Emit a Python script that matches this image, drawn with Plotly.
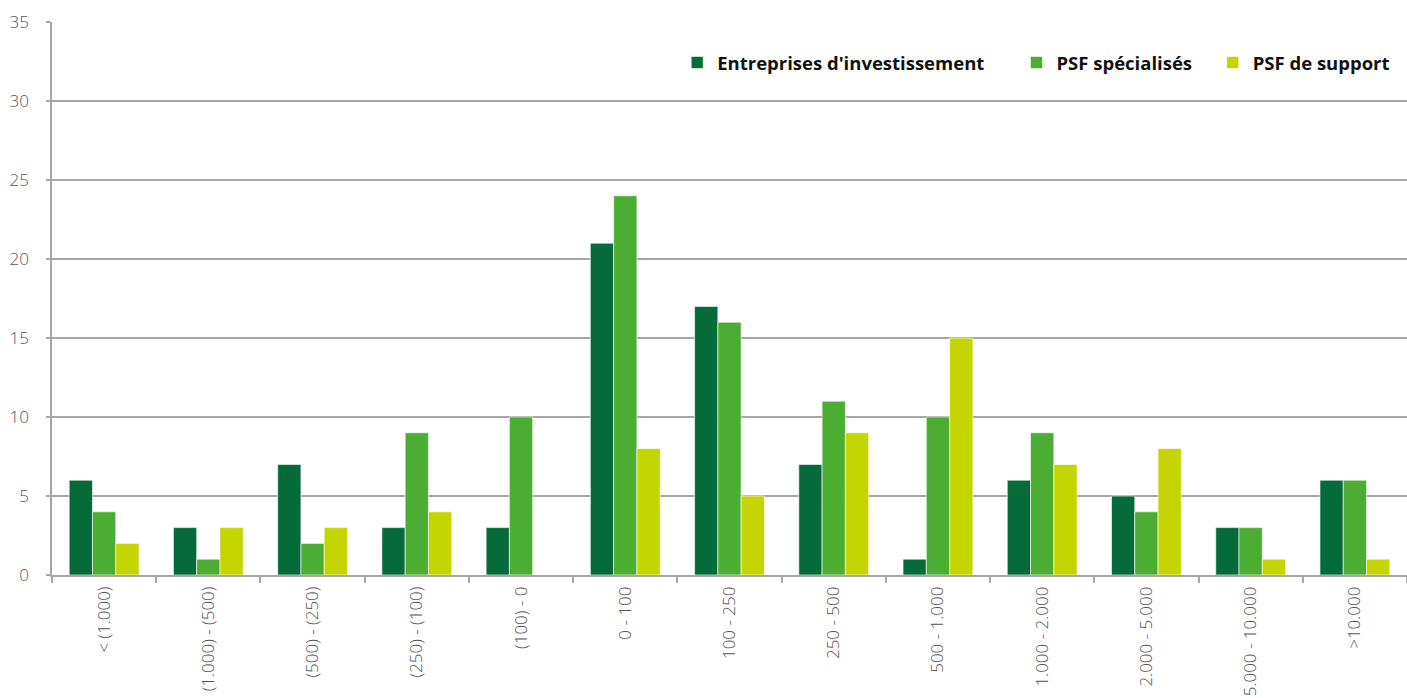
import plotly.graph_objects as go

# Profit/loss brackets (k EUR) and number of entities per bracket
categories = ["< (1.000)", "(1.000) - (500)", "(500) - (250)", "(250) - (100)", "(100) - 0",
              "0 - 100", "100 - 250", "250 - 500", "500 - 1.000", "1.000 - 2.000",
              "2.000 - 5.000", "5.000 - 10.000", ">10.000"]
entreprises_inv = [6, 3, 7, 3, 3, 21, 17, 7, 1, 6, 5, 3, 6]
psf_specialises = [4, 1, 2, 9, 10, 24, 16, 11, 10, 9, 4, 3, 6]
psf_support = [2, 3, 3, 4, 0, 8, 5, 9, 15, 7, 8, 1, 1]

series = [
    ("Entreprises d'investissement", entreprises_inv, "#066B3A", "legend", 0.4614),
    ("PSF spécialisés", psf_specialises, "#4BAE32", "legend2", 0.7118),
    ("PSF de support", psf_support, "#C5D500", "legend3", 0.8566),
]

fig = go.Figure()
legend_font = dict(family="Open Sans", size=18.5, color="#111111", weight="bold")
layout_legends = {}
for name, vals, color, leg, lx in series:
    fig.add_trace(go.Bar(
        x=categories, y=vals, name=name, legend=leg,
        marker=dict(color=color, line=dict(color="rgba(255,255,255,0.6)", width=1)),
    ))
    layout_legends[leg] = dict(
        orientation="h", x=lx, xanchor="left", y=0.926, yanchor="middle",
        font=legend_font, bgcolor="rgba(0,0,0,0)", itemwidth=30, borderwidth=0,
    )

grid = "#A6A6A6"
tick_font = dict(family="Open Sans", size=17, color="#555555", weight=300)
fig.update_layout(
    width=1407, height=698,
    margin=dict(l=52, r=0, t=22, b=123, autoexpand=False),
    paper_bgcolor="white", plot_bgcolor="white",
    barmode="group", bargap=0.33, bargroupgap=0,
    font=dict(family="Open Sans", color="#555555"),
    showlegend=True,
    xaxis=dict(
        type="category", tickangle=-90, tickson="boundaries",
        ticks="outside", ticklen=6, tickcolor=grid, tickwidth=1.5,
        showline=True, linecolor=grid, linewidth=1.5,
        tickfont=tick_font, ticklabelstandoff=3,
        automargin=False, showgrid=False,
    ),
    yaxis=dict(
        range=[0, 35], dtick=5, showgrid=True, gridcolor=grid, gridwidth=1.5,
        showline=True, linecolor=grid, linewidth=1.5,
        ticks="outside", ticklen=4, tickcolor=grid, tickwidth=1.5,
        tickfont=tick_font, ticklabelstandoff=14,
        zeroline=False, automargin=False,
    ),
    **layout_legends,
)

fig.write_html("out.html")
